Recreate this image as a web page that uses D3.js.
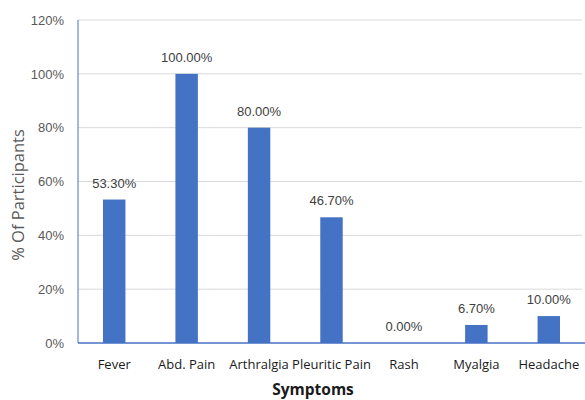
<!DOCTYPE html>
<html>
<head>
    <meta charset="utf-8">
    <script src="https://cdnjs.cloudflare.com/ajax/libs/d3/7.6.1/d3.min.js"></script>
    <style>
        html, body { margin: 0; padding: 0; background: #fff; }
        svg { display: block; }
    </style>
</head>
<body>
    <div id="chart"></div>
    <script>
        const symptoms = ["Fever", "Abd. Pain", "Arthralgia", "Pleuritic Pain", "Rash", "Myalgia", "Headache"];
        const percents = [53.3, 100, 80, 46.7, 0, 6.7, 10];
        const yTicks = [0, 20, 40, 60, 80, 100, 120];

        const width = 585, height = 400;
        const margin = { top: 20, right: 0, bottom: 57, left: 78 };

        const svg = d3.select("#chart").append("svg")
            .attr("width", width)
            .attr("height", height);

        const x = d3.scaleBand()
            .domain(symptoms)
            .range([margin.left, width - margin.right])
            .paddingInner(0.69)
            .paddingOuter(0.345);

        const y = d3.scaleLinear()
            .domain([0, 120])
            .range([height - margin.bottom, margin.top]);

        // gridlines
        svg.append("g")
            .selectAll("line")
            .data(yTicks.slice(1))
            .enter().append("line")
            .attr("x1", margin.left)
            .attr("x2", width - 3)
            .attr("y1", d => y(d))
            .attr("y2", d => y(d))
            .attr("stroke", "#d9d9d9")
            .attr("stroke-width", 1);

        // y axis labels
        const yAxis = d3.axisLeft(y)
            .tickValues(yTicks)
            .tickSize(0)
            .tickPadding(14)
            .tickFormat(d => d + "%");

        svg.append("g")
            .attr("transform", `translate(${margin.left},0)`)
            .call(yAxis)
            .call(g => g.select(".domain").remove())
            .selectAll("text")
            .attr("fill", "#595959")
            .style("font-family", "'Liberation Sans Narrow', 'Arial Narrow', sans-serif")
            .style("font-size", "13px");

        // bars
        svg.selectAll("rect.bar")
            .data(percents)
            .enter().append("rect")
            .attr("class", "bar")
            .attr("x", (d, i) => x(symptoms[i]))
            .attr("y", d => y(d))
            .attr("width", x.bandwidth())
            .attr("height", d => y(0) - y(d))
            .attr("fill", "#4472c4");

        // data labels
        svg.selectAll("text.lbl")
            .data(percents)
            .enter().append("text")
            .attr("class", "lbl")
            .attr("x", (d, i) => x(symptoms[i]) + x.bandwidth() / 2)
            .attr("y", d => y(d) - 12)
            .attr("text-anchor", "middle")
            .attr("fill", "#404040")
            .style("font-family", "'Liberation Sans Narrow', 'Arial Narrow', sans-serif")
            .style("font-size", "13px")
            .text(d => d.toFixed(2) + "%");

        // axis lines (blue)
        svg.append("line")
            .attr("x1", margin.left).attr("x2", margin.left)
            .attr("y1", y(120)).attr("y2", y(0))
            .attr("stroke", "#4472c4").attr("stroke-width", 1);
        svg.append("line")
            .attr("x1", margin.left).attr("x2", width)
            .attr("y1", y(0)).attr("y2", y(0))
            .attr("stroke", "#4472c4").attr("stroke-width", 1.5);

        // x axis category labels
        const xAxis = d3.axisBottom(x).tickSize(0).tickPadding(17);
        svg.append("g")
            .attr("transform", `translate(0,${y(0)})`)
            .call(xAxis)
            .call(g => g.select(".domain").remove())
            .selectAll("text")
            .attr("fill", "#1a1a1a")
            .style("font-family", "'Open Sans', sans-serif")
            .style("font-size", "13px");

        // axis titles
        svg.append("text")
            .attr("x", 313)
            .attr("y", 395)
            .attr("text-anchor", "middle")
            .attr("fill", "#1a1a1a")
            .style("font-family", "'Open Sans', sans-serif")
            .style("font-weight", "bold")
            .style("font-size", "15.5px")
            .text("Symptoms");

        svg.append("text")
            .attr("transform", "translate(24,195) rotate(-90)")
            .attr("text-anchor", "middle")
            .attr("fill", "#595959")
            .style("font-family", "'Open Sans', sans-serif")
            .style("font-size", "16.5px")
            .text("% Of Participants");
    </script>
</body>
</html>
